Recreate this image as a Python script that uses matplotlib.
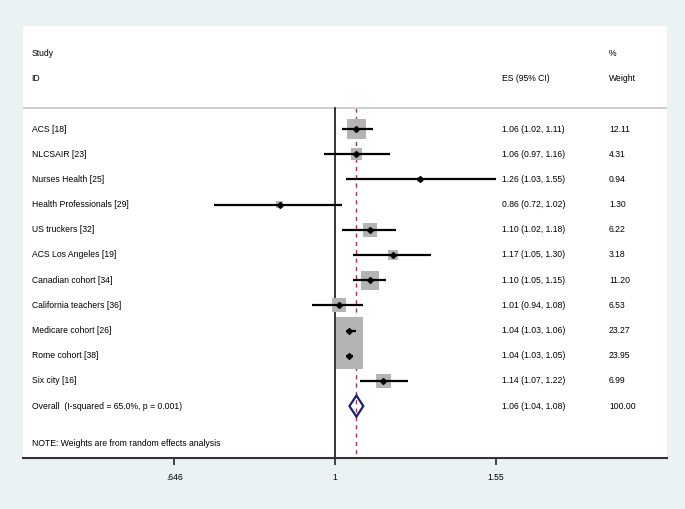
import numpy as np
import matplotlib.pyplot as plt
from matplotlib.patches import Polygon
from matplotlib.transforms import blended_transform_factory

plt.rcParams['font.family'] = ['Liberation Sans', 'DejaVu Sans']

# Study data (ES with 95% CI and % weight)
studies = ['ACS [18]', 'NLCSAIR [23]', 'Nurses Health [25]', 'Health Professionals [29]',
           'US truckers [32]', 'ACS Los Angeles [19]', 'Canadian cohort [34]',
           'California teachers [36]', 'Medicare cohort [26]', 'Rome cohort [38]',
           'Six city [16]']
es = [1.06, 1.06, 1.26, 0.86, 1.10, 1.17, 1.10, 1.01, 1.04, 1.04, 1.14]
lo = [1.02, 0.97, 1.03, 0.72, 1.02, 1.05, 1.05, 0.94, 1.03, 1.03, 1.07]
hi = [1.11, 1.16, 1.55, 1.02, 1.18, 1.30, 1.15, 1.08, 1.06, 1.05, 1.22]
weight = [12.11, 4.31, 0.94, 1.30, 6.22, 3.18, 11.20, 6.53, 23.27, 23.95, 6.99]

overall_label = 'Overall  (I-squared = 65.0%, p = 0.001)'
overall = (1.06, 1.04, 1.08)
xticks = [0.646, 1, 1.55]
xticklabels = ['.646', '1', '1.55']

fig = plt.figure(figsize=(6.85, 5.09), dpi=100, facecolor='#eaf2f3')
ax = fig.add_axes([23 / 685, 51 / 509, 644 / 685, 432 / 509])
ax.set_facecolor('white')
ax.set_xscale('log')
ax.set_xlim(0.428, 2.467)
ax.set_ylim(13.06, -4.09)

n = len(studies)
rows = np.arange(n)
fs = 6.2
tr = blended_transform_factory(ax.transAxes, ax.transData)

# header
ax.text(0.0134, -3, 'Study', transform=tr, va='center', fontsize=fs)
ax.text(0.0134, -2, 'ID', transform=tr, va='center', fontsize=fs)
ax.text(0.744, -2, 'ES (95% CI)', transform=tr, va='center', fontsize=fs)
ax.text(0.910, -3, '%', transform=tr, va='center', fontsize=fs)
ax.text(0.910, -2, 'Weight', transform=tr, va='center', fontsize=fs)
ax.axhline(-0.83, color='#c8c8c8', lw=1.3)

# reference lines
ax.plot([1, 1], [-0.83, 13.06], color='black', lw=1.1, zorder=2)
ax.plot([overall[0], overall[0]], [-0.83, 13.06], color='#9b3b46', lw=1.0,
        dashes=(3, 3), zorder=1)

# weight squares, CIs and point estimates
ax.scatter(es, rows, s=[16.2 * w for w in weight], marker='s', color='#b4b4b4',
           linewidths=0, zorder=3)
ax.hlines(rows, lo, hi, color='black', lw=1.6, zorder=4)
ax.plot(es, rows, 'D', color='black', ms=3, zorder=5)

for i in range(n):
    ax.text(0.0134, i, studies[i], transform=tr, va='center', fontsize=fs)
    ax.text(0.744, i, '%.2f (%.2f, %.2f)' % (es[i], lo[i], hi[i]),
            transform=tr, va='center', fontsize=fs)
    ax.text(0.910, i, '%.2f' % weight[i], transform=tr, va='center', fontsize=fs)

# overall diamond
yo = n
dia = Polygon([(overall[1], yo), (overall[0], yo - 0.42), (overall[2], yo),
               (overall[0], yo + 0.42)], closed=True, fill=False,
              edgecolor='#1c1f78', lw=1.6, zorder=6)
ax.add_patch(dia)
ax.text(0.0134, yo, overall_label, transform=tr, va='center', fontsize=fs)
ax.text(0.744, yo, '%.2f (%.2f, %.2f)' % overall, transform=tr, va='center', fontsize=fs)
ax.text(0.910, yo, '100.00', transform=tr, va='center', fontsize=fs)

ax.text(0.0134, 12.5, 'NOTE: Weights are from random effects analysis',
        transform=tr, va='center', fontsize=fs)

# axis styling
for side in ['top', 'left', 'right']:
    ax.spines[side].set_visible(False)
ax.spines['bottom'].set_color('#333333')
ax.spines['bottom'].set_linewidth(1.5)
ax.set_yticks([])
ax.set_xticks(xticks)
ax.set_xticklabels(xticklabels, fontsize=fs)
ax.xaxis.set_minor_locator(plt.NullLocator())
ax.tick_params(axis='x', length=5, width=1.3, color='#333333', pad=6)

plt.savefig('out.png', dpi=100, facecolor=fig.get_facecolor())
